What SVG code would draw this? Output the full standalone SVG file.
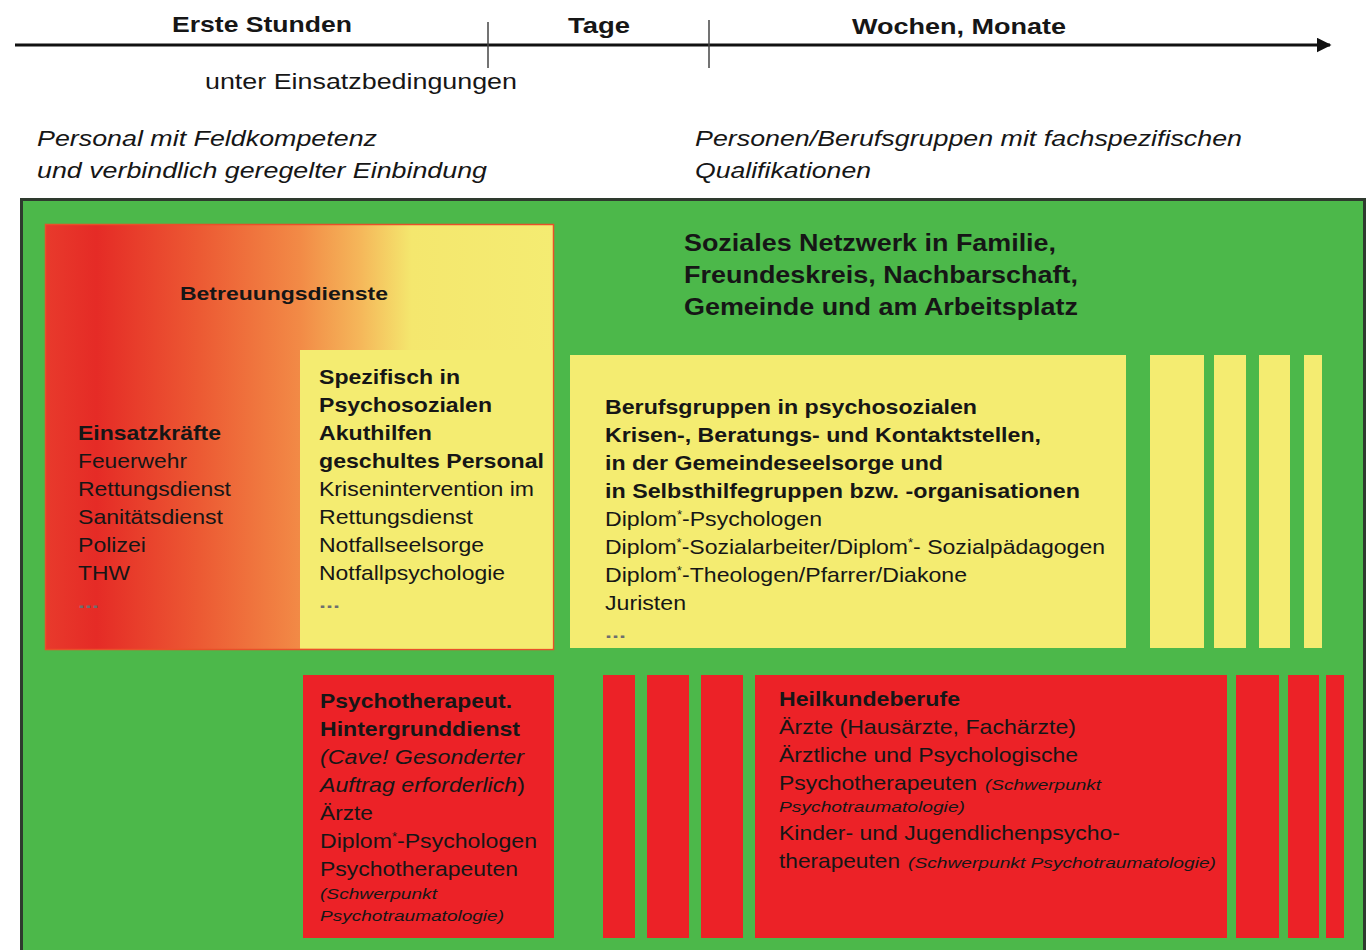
<svg xmlns="http://www.w3.org/2000/svg" width="1367" height="950" viewBox="0 0 1367 950">
  <defs>
    <linearGradient id="betreuungGrad" x1="0" y1="0" x2="1" y2="0">
      <stop offset="0" stop-color="#e83a2c"/>
      <stop offset="0.1" stop-color="#e52b26"/>
      <stop offset="0.3" stop-color="#ec5933"/>
      <stop offset="0.5" stop-color="#f28a46"/>
      <stop offset="0.62" stop-color="#f5b75a"/>
      <stop offset="0.72" stop-color="#f4e76e"/>
      <stop offset="1" stop-color="#f4ec72"/>
    </linearGradient>
    <marker id="arrowHead" viewBox="0 0 10 10" refX="9" refY="5" markerWidth="5" markerHeight="5" orient="auto" markerUnits="strokeWidth">
      <path d="M0,0 L10,5 L0,10 z" fill="#111"/>
    </marker>
  </defs>
  <style>
    text { font-family: "Liberation Sans", Arial, sans-serif; fill: #161616; }
    .b { font-weight: bold; }
    .i { font-style: italic; }
    .yellow { fill: #f4ec71; }
    .red { fill: #ec2227; }
    .dots { fill: #6e6e6e; font-size: 17px; font-weight: bold; }
    .tick { stroke: #444; stroke-width: 1.5; }
  </style>

  <rect width="1367" height="950" fill="#ffffff"/>

  <!-- time axis -->
  <g id="connectors">
    <line x1="15" y1="45" x2="1330" y2="45" stroke="#111" stroke-width="3" marker-end="url(#arrowHead)"/>
    <line class="tick" x1="488" y1="22" x2="488" y2="68"/>
    <line class="tick" x1="709" y1="20" x2="709" y2="68"/>
  </g>

  <g id="axis-labels">
    <text class="b" x="172" y="32" font-size="22" textLength="180" lengthAdjust="spacingAndGlyphs">Erste Stunden</text>
    <text class="b" x="568" y="33" font-size="22" textLength="62" lengthAdjust="spacingAndGlyphs">Tage</text>
    <text class="b" x="852" y="34" font-size="22" textLength="214" lengthAdjust="spacingAndGlyphs">Wochen, Monate</text>
    <text x="205" y="89" font-size="22" textLength="312" lengthAdjust="spacingAndGlyphs">unter Einsatzbedingungen</text>
    <text class="i" x="37" y="146" font-size="22" textLength="340" lengthAdjust="spacingAndGlyphs">Personal mit Feldkompetenz</text>
    <text class="i" x="37" y="178" font-size="22" textLength="450" lengthAdjust="spacingAndGlyphs">und verbindlich geregelter Einbindung</text>
    <text class="i" x="695" y="146" font-size="22" textLength="547" lengthAdjust="spacingAndGlyphs">Personen/Berufsgruppen mit fachspezifischen</text>
    <text class="i" x="695" y="178" font-size="22" textLength="176" lengthAdjust="spacingAndGlyphs">Qualifikationen</text>
  </g>

  <!-- social network background panel -->
  <g id="soziales-netzwerk">
    <rect x="21.5" y="199.5" width="1343" height="760" fill="#4cb84a" stroke="#2e3a2e" stroke-width="3"/>
    <text class="b" x="684" y="251" font-size="23" textLength="372" lengthAdjust="spacingAndGlyphs">Soziales Netzwerk in Familie,</text>
    <text class="b" x="684" y="283" font-size="23" textLength="394" lengthAdjust="spacingAndGlyphs">Freundeskreis, Nachbarschaft,</text>
    <text class="b" x="684" y="315" font-size="23" textLength="394" lengthAdjust="spacingAndGlyphs">Gemeinde und am Arbeitsplatz</text>
  </g>

  <g id="betreuungsdienste">
    <rect x="45.5" y="224.5" width="508" height="425" fill="url(#betreuungGrad)" stroke="#e8502a" stroke-width="1.5"/>
    <text class="b" x="180" y="300" font-size="19" textLength="208" lengthAdjust="spacingAndGlyphs">Betreuungsdienste</text>
    <text class="b" x="78" y="440" font-size="21" textLength="143" lengthAdjust="spacingAndGlyphs">Einsatzkräfte</text>
    <text x="78" y="468" font-size="21" textLength="109" lengthAdjust="spacingAndGlyphs">Feuerwehr</text>
    <text x="78" y="496" font-size="21" textLength="153" lengthAdjust="spacingAndGlyphs">Rettungsdienst</text>
    <text x="78" y="524" font-size="21" textLength="145" lengthAdjust="spacingAndGlyphs">Sanitätsdienst</text>
    <text x="78" y="552" font-size="21" textLength="68" lengthAdjust="spacingAndGlyphs">Polizei</text>
    <text x="78" y="580" font-size="21" textLength="52" lengthAdjust="spacingAndGlyphs">THW</text>
    <text class="dots" x="78" y="608" textLength="21" lengthAdjust="spacingAndGlyphs">...</text>
  </g>

  <g id="spezifisch-geschultes-personal">
    <rect class="yellow" x="300" y="350" width="252.5" height="298.5"/>
    <text class="b" x="319" y="384" font-size="21" textLength="141" lengthAdjust="spacingAndGlyphs">Spezifisch in</text>
    <text class="b" x="319" y="412" font-size="21" textLength="173" lengthAdjust="spacingAndGlyphs">Psychosozialen</text>
    <text class="b" x="319" y="440" font-size="21" textLength="113" lengthAdjust="spacingAndGlyphs">Akuthilfen</text>
    <text class="b" x="319" y="468" font-size="21" textLength="225" lengthAdjust="spacingAndGlyphs">geschultes Personal</text>
    <text x="319" y="496" font-size="21" textLength="215" lengthAdjust="spacingAndGlyphs">Krisenintervention im</text>
    <text x="319" y="524" font-size="21" textLength="154" lengthAdjust="spacingAndGlyphs">Rettungsdienst</text>
    <text x="319" y="552" font-size="21" textLength="165" lengthAdjust="spacingAndGlyphs">Notfallseelsorge</text>
    <text x="319" y="580" font-size="21" textLength="186" lengthAdjust="spacingAndGlyphs">Notfallpsychologie</text>
    <text class="dots" x="319" y="608" textLength="21" lengthAdjust="spacingAndGlyphs">...</text>
  </g>

  <g id="berufsgruppen-psychosozial">
    <rect class="yellow" x="570" y="355" width="556" height="293"/>
    <text class="b" x="605" y="414" font-size="21" textLength="372" lengthAdjust="spacingAndGlyphs">Berufsgruppen in psychosozialen</text>
    <text class="b" x="605" y="442" font-size="21" textLength="436" lengthAdjust="spacingAndGlyphs">Krisen-, Beratungs- und Kontaktstellen,</text>
    <text class="b" x="605" y="470" font-size="21" textLength="338" lengthAdjust="spacingAndGlyphs">in der Gemeindeseelsorge und</text>
    <text class="b" x="605" y="498" font-size="21" textLength="475" lengthAdjust="spacingAndGlyphs">in Selbsthilfegruppen bzw. -organisationen</text>
    <text x="605" y="526" font-size="21" textLength="217" lengthAdjust="spacingAndGlyphs">Diplom<tspan font-size="12" dy="-7">*</tspan><tspan dy="7">-Psychologen</tspan></text>
    <text x="605" y="554" font-size="21" textLength="500" lengthAdjust="spacingAndGlyphs">Diplom<tspan font-size="12" dy="-7">*</tspan><tspan dy="7">-Sozialarbeiter/Diplom</tspan><tspan font-size="12" dy="-7">*</tspan><tspan dy="7">- Sozialpädagogen</tspan></text>
    <text x="605" y="582" font-size="21" textLength="362" lengthAdjust="spacingAndGlyphs">Diplom<tspan font-size="12" dy="-7">*</tspan><tspan dy="7">-Theologen/Pfarrer/Diakone</tspan></text>
    <text x="605" y="610" font-size="21" textLength="81" lengthAdjust="spacingAndGlyphs">Juristen</text>
    <text class="dots" x="605" y="638" textLength="21" lengthAdjust="spacingAndGlyphs">...</text>
  </g>

  <g id="berufsgruppen-fortsetzung">
    <rect class="yellow" x="1150" y="355" width="54" height="293"/>
    <rect class="yellow" x="1214" y="355" width="32" height="293"/>
    <rect class="yellow" x="1259" y="355" width="31" height="293"/>
    <rect class="yellow" x="1304" y="355" width="18" height="293"/>
  </g>

  <g id="psychotherapeutischer-hintergrunddienst">
    <rect class="red" x="303" y="675" width="251" height="263"/>
    <text class="b" x="320" y="708" font-size="21" textLength="192" lengthAdjust="spacingAndGlyphs">Psychotherapeut.</text>
    <text class="b" x="320" y="736" font-size="21" textLength="200" lengthAdjust="spacingAndGlyphs">Hintergrunddienst</text>
    <text class="i" x="320" y="764" font-size="21" textLength="204" lengthAdjust="spacingAndGlyphs">(Cave! Gesonderter</text>
    <text x="320" y="792" font-size="21" textLength="205" lengthAdjust="spacingAndGlyphs"><tspan class="i">Auftrag erforderlich</tspan>)</text>
    <text x="320" y="820" font-size="21" textLength="53" lengthAdjust="spacingAndGlyphs">Ärzte</text>
    <text x="320" y="848" font-size="21" textLength="217" lengthAdjust="spacingAndGlyphs">Diplom<tspan font-size="12" dy="-7">*</tspan><tspan dy="7">-Psychologen</tspan></text>
    <text x="320" y="876" font-size="21" textLength="198" lengthAdjust="spacingAndGlyphs">Psychotherapeuten</text>
    <text class="i" x="320" y="899" font-size="15" textLength="117" lengthAdjust="spacingAndGlyphs">(Schwerpunkt</text>
    <text class="i" x="320" y="921" font-size="15" textLength="184" lengthAdjust="spacingAndGlyphs">Psychotraumatologie)</text>
  </g>

  <g id="hintergrunddienst-fortsetzung">
    <rect class="red" x="603" y="675" width="32" height="263"/>
    <rect class="red" x="647" y="675" width="42" height="263"/>
    <rect class="red" x="701" y="675" width="42" height="263"/>
  </g>

  <g id="heilkundeberufe">
    <rect class="red" x="755" y="675" width="472" height="263"/>
    <text class="b" x="779" y="706" font-size="21" textLength="181" lengthAdjust="spacingAndGlyphs">Heilkundeberufe</text>
    <text x="779" y="734" font-size="21" textLength="297" lengthAdjust="spacingAndGlyphs">Ärzte (Hausärzte, Fachärzte)</text>
    <text x="779" y="762" font-size="21" textLength="299" lengthAdjust="spacingAndGlyphs">Ärztliche und Psychologische</text>
    <text x="779" y="790" font-size="21" textLength="198" lengthAdjust="spacingAndGlyphs">Psychotherapeuten</text>
    <text class="i" x="985" y="790" font-size="15" textLength="116" lengthAdjust="spacingAndGlyphs">(Schwerpunkt</text>
    <text class="i" x="779" y="812" font-size="15" textLength="186" lengthAdjust="spacingAndGlyphs">Psychotraumatologie)</text>
    <text x="779" y="840" font-size="21" textLength="341" lengthAdjust="spacingAndGlyphs">Kinder- und Jugendlichenpsycho-</text>
    <text x="779" y="868" font-size="21" textLength="121" lengthAdjust="spacingAndGlyphs">therapeuten</text>
    <text class="i" x="908" y="868" font-size="15" textLength="308" lengthAdjust="spacingAndGlyphs">(Schwerpunkt Psychotraumatologie)</text>
  </g>

  <g id="heilkundeberufe-fortsetzung">
    <rect class="red" x="1236" y="675" width="43" height="263"/>
    <rect class="red" x="1288" y="675" width="31" height="263"/>
    <rect class="red" x="1326" y="675" width="18" height="263"/>
  </g>
</svg>
